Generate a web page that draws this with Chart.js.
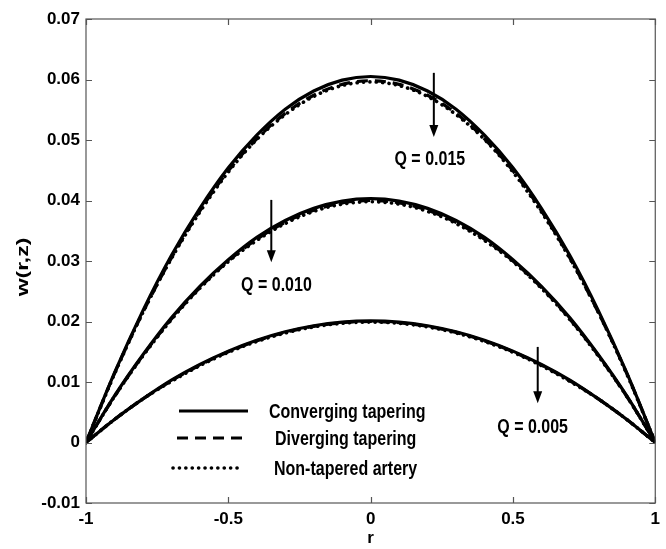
<!DOCTYPE html>
<html>
<head>
<meta charset="utf-8">
<script src="https://cdn.jsdelivr.net/npm/chart.js@4/dist/chart.umd.min.js"></script>
<style>
  html, body { margin: 0; padding: 0; background: #fff; }
  #wrap { width: 666px; height: 549px; }
</style>
</head>
<body>
<div id="wrap"><canvas id="c" width="666" height="549"></canvas></div>
<script>
// Radial positions r
const rValues = [-1, -0.9, -0.8, -0.7, -0.6, -0.5, -0.4, -0.3, -0.2, -0.1, 0,
                 0.1, 0.2, 0.3, 0.4, 0.5, 0.6, 0.7, 0.8, 0.9, 1];

// Axial velocity w(r,z), Q = 0.015
const convQ015 = [0, 0.0115, 0.0218, 0.0309, 0.0387, 0.0454, 0.0508, 0.0551, 0.0581, 0.0599, 0.0605,
                  0.0599, 0.0581, 0.0551, 0.0508, 0.0454, 0.0387, 0.0309, 0.0218, 0.0115, 0];
const divQ015  = [0, 0.0114, 0.0215, 0.0305, 0.0383, 0.0449, 0.0502, 0.0544, 0.0574, 0.0592, 0.0598,
                  0.0592, 0.0574, 0.0544, 0.0502, 0.0449, 0.0383, 0.0305, 0.0215, 0.0114, 0];
const nonQ015  = [0, 0.0113, 0.0215, 0.0304, 0.0381, 0.0447, 0.0501, 0.0542, 0.0572, 0.0590, 0.0596,
                  0.0590, 0.0572, 0.0542, 0.0501, 0.0447, 0.0381, 0.0304, 0.0215, 0.0113, 0];

// Q = 0.010
const convQ010 = [0, 0.0077, 0.0145, 0.0206, 0.0258, 0.0302, 0.0339, 0.0367, 0.0387, 0.0399, 0.0403,
                  0.0399, 0.0387, 0.0367, 0.0339, 0.0302, 0.0258, 0.0206, 0.0145, 0.0077, 0];
const divQ010  = [0, 0.0076, 0.0144, 0.0204, 0.0256, 0.0300, 0.0336, 0.0364, 0.0384, 0.0396, 0.0400,
                  0.0396, 0.0384, 0.0364, 0.0336, 0.0300, 0.0256, 0.0204, 0.0144, 0.0076, 0];
const nonQ010  = [0, 0.0076, 0.0143, 0.0203, 0.0255, 0.0299, 0.0334, 0.0362, 0.0382, 0.0394, 0.0398,
                  0.0394, 0.0382, 0.0362, 0.0334, 0.0299, 0.0255, 0.0203, 0.0143, 0.0076, 0];

// Q = 0.005
const convQ005 = [0, 0.0038, 0.0072, 0.0103, 0.0129, 0.0151, 0.0169, 0.0183, 0.0193, 0.0199, 0.0201,
                  0.0199, 0.0193, 0.0183, 0.0169, 0.0151, 0.0129, 0.0103, 0.0072, 0.0038, 0];
const divQ005  = [0, 0.0038, 0.0072, 0.0102, 0.0128, 0.0150, 0.0168, 0.0182, 0.0192, 0.0198, 0.0200,
                  0.0198, 0.0192, 0.0182, 0.0168, 0.0150, 0.0128, 0.0102, 0.0072, 0.0038, 0];
const nonQ005  = [0, 0.0038, 0.0072, 0.0101, 0.0127, 0.0149, 0.0167, 0.0181, 0.0191, 0.0197, 0.0199,
                  0.0197, 0.0191, 0.0181, 0.0167, 0.0149, 0.0127, 0.0101, 0.0072, 0.0038, 0];

// Axis ticks
const xTicks = [-1, -0.5, 0, 0.5, 1];
const yTicks = [-0.01, 0, 0.01, 0.02, 0.03, 0.04, 0.05, 0.06, 0.07];

// Legend entries
const legendNames = ['Converging tapering', 'Diverging tapering', 'Non-tapered artery'];

// Flow-rate annotations (data coordinates)
const qLabels = ['Q = 0.015', 'Q = 0.010', 'Q = 0.005'];
const qArrowX = [0.222, -0.349, 0.587];
const qArrowTop = [0.0611, 0.0401, 0.0158];
const qArrowBottom = [0.0505, 0.0298, 0.0065];
const qLabelX = [0.208, -0.331, 0.569];
const qLabelY = [0.0467, 0.0260, 0.0024];

const FONT = 'Liberation Sans, Arial, Helvetica, sans-serif';

const styles = {
  conv: { borderDash: [], borderWidth: 3.2, borderCapStyle: 'butt' },
  div:  { borderDash: [11, 7], borderWidth: 3.2, borderCapStyle: 'butt' },
  non:  { borderDash: [0.1, 6.3], borderWidth: 3.6, borderCapStyle: 'round' }
};

function series(values, style) {
  return Object.assign({
    data: rValues.map((r, i) => ({ x: r, y: values[i] })),
    borderColor: '#000',
    pointRadius: 0,
    cubicInterpolationMode: 'monotone',
    fill: false
  }, style);
}

const datasets = [
  series(nonQ015, styles.non), series(nonQ010, styles.non), series(nonQ005, styles.non),
  series(divQ015, styles.div), series(divQ010, styles.div), series(divQ005, styles.div),
  series(convQ015, styles.conv), series(convQ010, styles.conv), series(convQ005, styles.conv)
];

// text drawn slightly taller than wide
function tallText(ctx, txt, x, y, align, sy) {
  ctx.save();
  ctx.translate(x, y);
  ctx.scale(1, sy);
  ctx.textAlign = align;
  ctx.textBaseline = 'middle';
  ctx.fillText(txt, 0, 0);
  ctx.restore();
}

const decor = {
  id: 'decor',
  afterDraw(chart) {
    const ctx = chart.ctx;
    const a = chart.chartArea;
    const xs = chart.scales.x, ys = chart.scales.y;
    ctx.save();
    // frame
    ctx.strokeStyle = '#555';
    ctx.lineWidth = 1.2;
    ctx.strokeRect(a.left, a.top, a.right - a.left, a.bottom - a.top);
    // inward tick marks on all four sides
    const tl = 6;
    ctx.beginPath();
    xTicks.forEach(v => {
      const px = Math.round(xs.getPixelForValue(v)) + 0.5;
      ctx.moveTo(px, a.bottom); ctx.lineTo(px, a.bottom - tl);
      ctx.moveTo(px, a.top); ctx.lineTo(px, a.top + tl);
    });
    yTicks.forEach(v => {
      const py = Math.round(ys.getPixelForValue(v)) + 0.5;
      ctx.moveTo(a.left, py); ctx.lineTo(a.left + tl, py);
      ctx.moveTo(a.right, py); ctx.lineTo(a.right - tl, py);
    });
    ctx.stroke();

    // y-axis title
    ctx.fillStyle = '#000';
    ctx.font = 'bold 17px ' + FONT;
    ctx.save();
    ctx.translate(23, 267);
    ctx.rotate(-Math.PI / 2);
    ctx.scale(1.35, 1);
    ctx.textAlign = 'center';
    ctx.textBaseline = 'middle';
    ctx.fillText('w(r,z)', 0, 0);
    ctx.restore();

    // arrows with flow-rate labels
    ctx.strokeStyle = '#000';
    qLabels.forEach((txt, i) => {
      const x = xs.getPixelForValue(qArrowX[i]);
      const y0 = ys.getPixelForValue(qArrowTop[i]);
      const y1 = ys.getPixelForValue(qArrowBottom[i]);
      ctx.lineWidth = 2;
      ctx.beginPath();
      ctx.moveTo(x, y0); ctx.lineTo(x, y1 - 10);
      ctx.stroke();
      ctx.beginPath();
      ctx.moveTo(x - 4.5, y1 - 12);
      ctx.lineTo(x + 4.5, y1 - 12);
      ctx.lineTo(x, y1);
      ctx.closePath();
      ctx.fill();
      ctx.font = 'bold 16px ' + FONT;
      tallText(ctx, txt, xs.getPixelForValue(qLabelX[i]), ys.getPixelForValue(qLabelY[i]), 'center', 1.22);
    });

    // legend
    const lx0 = [179, 177, 173], lx1 = [248, 244, 239];
    const tx = [269, 275, 274];
    const ly = [411, 438, 468];
    const lstyles = [styles.conv, styles.div, styles.non];
    lstyles.forEach((s, i) => {
      ctx.lineWidth = s.borderWidth;
      ctx.setLineDash(s.borderDash);
      ctx.lineCap = s.borderCapStyle;
      ctx.beginPath();
      ctx.moveTo(lx0[i], ly[i]); ctx.lineTo(lx1[i], ly[i]);
      ctx.stroke();
      ctx.setLineDash([]);
      ctx.lineCap = 'butt';
      ctx.font = 'bold 16px ' + FONT;
      tallText(ctx, legendNames[i], tx[i], ly[i] + 1, 'left', 1.28);
    });
    ctx.restore();
  }
};

function fmt(v) {
  const r = Math.round(v * 1000) / 1000;
  if (r === 0) return '0';
  return String(r);
}

new Chart(document.getElementById('c'), {
  type: 'line',
  data: { datasets },
  plugins: [decor],
  options: {
    responsive: false,
    animation: false,
    layout: { padding: { left: 0, right: 9, top: 19, bottom: 0 } },
    plugins: { legend: { display: false }, tooltip: { enabled: false } },
    scales: {
      x: {
        type: 'linear',
        min: -1, max: 1,
        afterFit(s) { s.height = 46; },
        afterBuildTicks(s) { s.ticks = xTicks.map(v => ({ value: v })); },
        grid: { display: false, drawTicks: false },
        border: { display: false },
        ticks: {
          color: '#000', padding: 6,
          font: { family: FONT, size: 17, weight: 'bold' },
          maxRotation: 0,
          callback: v => fmt(v)
        },
        title: {
          display: true, text: 'r', color: '#000', padding: { top: 0, bottom: 0 },
          font: { family: FONT, size: 17, weight: 'bold' }
        }
      },
      y: {
        type: 'linear',
        min: -0.01, max: 0.07,
        afterFit(s) { s.width = 86; },
        afterBuildTicks(s) { s.ticks = yTicks.map(v => ({ value: v })); },
        grid: { display: false, drawTicks: false },
        border: { display: false },
        ticks: {
          color: '#000', padding: 6,
          font: { family: FONT, size: 17, weight: 'bold' },
          callback: v => fmt(v)
        },
        title: { display: false }
      }
    }
  }
});
</script>
</body>
</html>
